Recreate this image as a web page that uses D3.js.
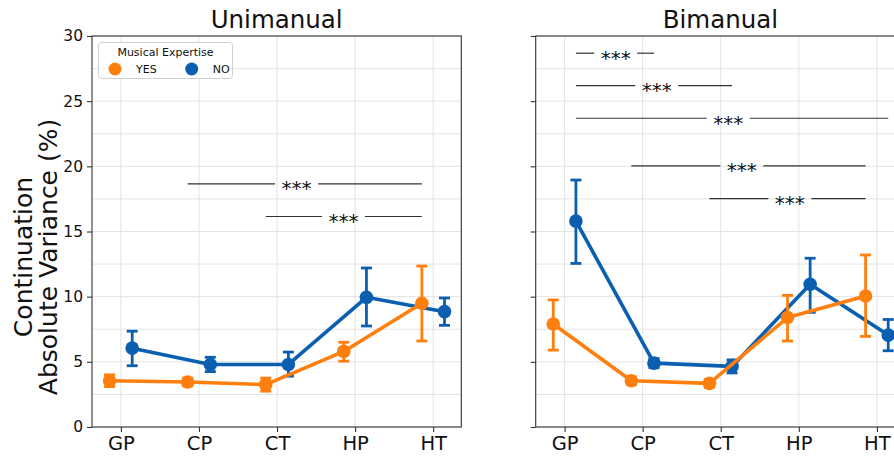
<!DOCTYPE html>
<html>
<head>
<meta charset="utf-8">
<script src="https://cdn.jsdelivr.net/npm/d3@7/dist/d3.min.js"></script>
<style>
  html, body { margin: 0; padding: 0; background: #fff; }
  svg { display: block; font-family: "DejaVu Sans", sans-serif; }
</style>
</head>
<body>
<svg id="chart" width="894" height="458"></svg>
<script>
// Task categories on the x axis
const categories = ["GP", "CP", "CT", "HP", "HT"];
const yTicks = [0, 5, 10, 15, 20, 25, 30];
const groups = ["YES", "NO"];

// Unimanual: means and error-bar bounds per group
const uniYesMean = [3.55, 3.45, 3.25, 5.8, 9.5];
const uniYesLow  = [3.1, 3.15, 2.75, 5.05, 6.6];
const uniYesHigh = [4.0, 3.75, 3.75, 6.5, 12.35];
const uniNoMean  = [6.05, 4.8, 4.8, 9.95, 8.85];
const uniNoLow   = [4.7, 4.25, 3.9, 7.75, 7.8];
const uniNoHigh  = [7.35, 5.35, 5.75, 12.2, 9.9];

// Bimanual: means and error-bar bounds per group
const biYesMean = [7.9, 3.55, 3.35, 8.4, 10.05];
const biYesLow  = [5.9, 3.25, 3.05, 6.6, 6.95];
const biYesHigh = [9.75, 3.85, 3.65, 10.1, 13.2];
const biNoMean  = [15.8, 4.9, 4.65, 10.95, 7.05];
const biNoLow   = [12.55, 4.55, 4.15, 8.8, 5.85];
const biNoHigh  = [18.95, 5.25, 5.15, 12.95, 8.25];

// Significance brackets: span in category units, height in data units, label centre
const uniSigFrom  = [0.855, 1.855];
const uniSigTo    = [3.855, 3.855];
const uniSigY     = [18.65, 16.15];
const uniSigLabel = [2.25, 2.85];

const biSigFrom  = [0.145, 0.145, 0.145, 0.855, 1.855];
const biSigTo    = [1.145, 2.145, 4.145, 3.855, 3.855];
const biSigY     = [28.68, 26.19, 23.69, 20.03, 17.52];
const biSigLabel = [0.655, 1.18, 2.095, 2.27, 2.885];

const colors = { YES: "#ff7f0e", NO: "#0a5fb0" };
const dodge = { YES: -0.145, NO: 0.145 };

const svg = d3.select("#chart");
const plotTop = 36, plotBottom = 427;
const panelW = 369.3;

const y = d3.scaleLinear().domain([0, 30]).range([plotBottom, plotTop]);

function panel(x0, title, data, sig, showYLabels) {
  const x = d3.scaleLinear().domain([-0.37, 4.36]).range([x0, x0 + panelW]);
  const g = svg.append("g");

  // grid: every category and every 2.5 units
  const gridY = d3.range(0, 30.01, 2.5);
  g.append("g").selectAll("line").data(gridY).join("line")
    .attr("x1", x0).attr("x2", x0 + panelW)
    .attr("y1", d => y(d)).attr("y2", d => y(d))
    .attr("stroke", "#e3e3e3").attr("stroke-width", 1);
  g.append("g").selectAll("line").data(categories).join("line")
    .attr("x1", (d, i) => x(i)).attr("x2", (d, i) => x(i))
    .attr("y1", plotTop).attr("y2", plotBottom)
    .attr("stroke", "#e3e3e3").attr("stroke-width", 1);

  // axes
  const yAxis = d3.axisLeft(y).tickValues(yTicks).tickSize(5).tickPadding(4)
    .tickFormat(showYLabels ? d3.format("d") : () => "");
  const ya = g.append("g").attr("transform", `translate(${x0},0)`).call(yAxis);
  ya.select(".domain").remove();
  ya.selectAll("line").attr("stroke", "#333").attr("stroke-width", 1.1);
  ya.selectAll("text").attr("font-size", 15.5).attr("fill", "#111")
    .attr("font-family", "DejaVu Sans");

  const xAxis = d3.axisBottom(x).tickValues(d3.range(categories.length))
    .tickFormat(i => categories[i]).tickSize(5).tickPadding(4);
  const xa = g.append("g").attr("transform", `translate(0,${plotBottom})`).call(xAxis);
  xa.select(".domain").remove();
  xa.selectAll("line").attr("stroke", "#333").attr("stroke-width", 1.1);
  xa.selectAll("text").attr("font-size", 19.5).attr("fill", "#111")
    .attr("font-family", "DejaVu Sans");

  // frame
  g.append("rect").attr("x", x0).attr("y", plotTop)
    .attr("width", panelW).attr("height", plotBottom - plotTop)
    .attr("fill", "none").attr("stroke", "#333").attr("stroke-width", 1.1);

  // title
  g.append("text").attr("x", x0 + panelW / 2).attr("y", 28)
    .attr("text-anchor", "middle").attr("font-size", 24.5).attr("fill", "#111")
    .text(title);

  // significance brackets
  const fs = 20, gapHalf = 21.5;
  sig.from.forEach((f, i) => {
    const yy = y(sig.y[i]);
    const lx = x(sig.label[i]);
    const sg = g.append("g");
    sg.append("line").attr("x1", x(f)).attr("x2", lx - gapHalf)
      .attr("y1", yy).attr("y2", yy).attr("stroke", "#333").attr("stroke-width", 1.2);
    sg.append("line").attr("x1", lx + gapHalf).attr("x2", x(sig.to[i]))
      .attr("y1", yy).attr("y2", yy).attr("stroke", "#333").attr("stroke-width", 1.2);
    sg.append("text").attr("x", lx).attr("y", yy + 0.57 * fs)
      .attr("text-anchor", "middle").attr("font-size", fs).attr("fill", "#111")
      .text("***");
  });

  // series: NO first, YES drawn above it
  ["NO", "YES"].forEach(grp => {
    const d = data[grp];
    const pts = d.mean.map((m, i) => ({ i, m, lo: d.low[i], hi: d.high[i] }));
    const px = p => x(p.i + dodge[grp]);
    const sg = g.append("g");
    sg.selectAll("line.err").data(pts).join("line").attr("class", "err")
      .attr("x1", px).attr("x2", px)
      .attr("y1", p => y(p.lo)).attr("y2", p => y(p.hi))
      .attr("stroke", colors[grp]).attr("stroke-width", 2.8);
    ["lo", "hi"].forEach(k => {
      sg.selectAll("line.cap" + k).data(pts).join("line").attr("class", "cap" + k)
        .attr("x1", p => px(p) - 5.5).attr("x2", p => px(p) + 5.5)
        .attr("y1", p => y(p[k])).attr("y2", p => y(p[k]))
        .attr("stroke", colors[grp]).attr("stroke-width", 2.8);
    });
    sg.append("path").datum(pts)
      .attr("d", d3.line().x(px).y(p => y(p.m)))
      .attr("fill", "none").attr("stroke", colors[grp]).attr("stroke-width", 3.6)
      .attr("stroke-linejoin", "round");
    sg.selectAll("circle").data(pts).join("circle")
      .attr("cx", px).attr("cy", p => y(p.m)).attr("r", 6.8)
      .attr("fill", colors[grp]);
  });
  return g;
}

panel(92, "Unimanual",
  { YES: { mean: uniYesMean, low: uniYesLow, high: uniYesHigh },
    NO:  { mean: uniNoMean,  low: uniNoLow,  high: uniNoHigh } },
  { from: uniSigFrom, to: uniSigTo, y: uniSigY, label: uniSigLabel }, true);

panel(535.7, "Bimanual",
  { YES: { mean: biYesMean, low: biYesLow, high: biYesHigh },
    NO:  { mean: biNoMean,  low: biNoLow,  high: biNoHigh } },
  { from: biSigFrom, to: biSigTo, y: biSigY, label: biSigLabel }, false);

// y-axis label (two lines)
const yl = svg.append("text")
  .attr("transform", "translate(0,257) rotate(-90)")
  .attr("text-anchor", "middle").attr("font-size", 25).attr("fill", "#111");
yl.append("tspan").attr("x", 0).attr("y", 32).text("Continuation");
yl.append("tspan").attr("x", 0).attr("y", 57).text("Absolute Variance (%)");

// legend
const lg = svg.append("g");
lg.append("rect").attr("x", 98.5).attr("y", 42.5).attr("width", 134).attr("height", 36)
  .attr("rx", 3).attr("fill", "#fff").attr("fill-opacity", 0.85)
  .attr("stroke", "#d0d0d0").attr("stroke-width", 1);
lg.append("text").attr("x", 165.5).attr("y", 55.5).attr("text-anchor", "middle")
  .attr("font-size", 11).attr("fill", "#111").text("Musical Expertise");
const legX = { YES: 115, NO: 191.7 };
groups.forEach(grp => {
  lg.append("circle").attr("cx", legX[grp]).attr("cy", 69).attr("r", 6.5)
    .attr("fill", colors[grp]);
  lg.append("text").attr("x", legX[grp] + 21).attr("y", 73).attr("font-size", 11)
    .attr("fill", "#111").text(grp);
});
</script>
</body>
</html>
